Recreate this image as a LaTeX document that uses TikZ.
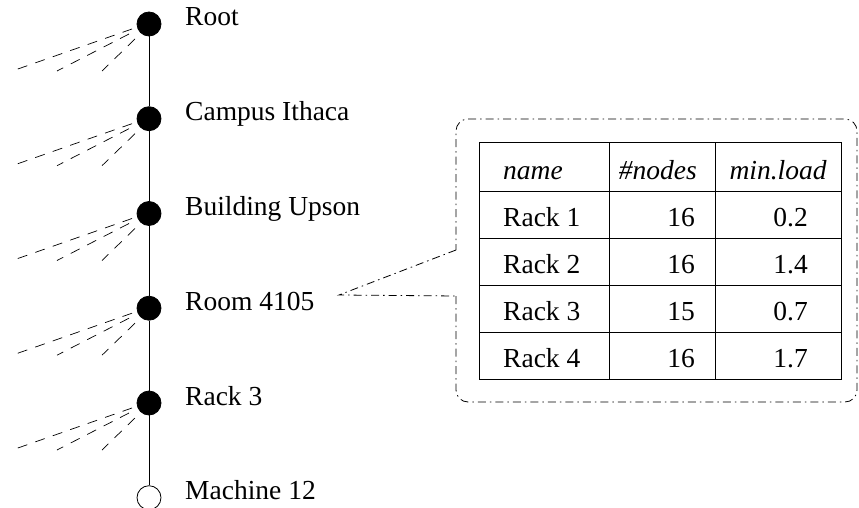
\documentclass[tikz,border=0pt]{standalone}
\usepackage{fontspec}
\setmainfont{Liberation Serif}
\begin{document}
\begin{tikzpicture}[x=1pt,y=-1pt,
  every node/.style={font=\fontsize{27.5}{33}\selectfont, inner sep=0pt},
  vert/.style={circle, draw=black, fill=black, line width=0.8pt, minimum size=24pt},
  leafvert/.style={circle, draw=black, fill=white, line width=0.8pt, minimum size=24pt},
  treeline/.style={line width=0.8pt},
  twig/.style={line width=0.7pt, dash pattern=on 10pt off 8.5pt},
  calloutline/.style={line width=0.8pt, dash pattern=on 8pt off 4pt on 1.5pt off 4pt},
  grid/.style={line width=1pt},
  lbl/.style={anchor=base west},
  cellL/.style={anchor=base west},
  cellR/.style={anchor=base east},
  cellC/.style={anchor=base}]
\useasboundingbox (0,0) rectangle (859,508);

% tree vertices
\node[vert] (root) at (149,24) {};
\node[vert] (campus) at (149,118.7) {};
\node[vert] (building) at (149,213.5) {};
\node[vert] (room) at (149,308.2) {};
\node[vert] (rack) at (149,403) {};
\node[leafvert] (machine) at (149,497.7) {};

\draw[treeline] (root) -- (campus);
\draw[treeline] (campus) -- (building);
\draw[treeline] (building) -- (room);
\draw[treeline] (room) -- (rack);
\draw[treeline] (rack) -- (machine);

% labels
\node[lbl] (lroot) at (185,26) {Root};
\node[lbl] (lcampus) at (185,120.7) {Campus Ithaca};
\node[lbl] (lbuilding) at (185,215.5) {Building Upson};
\node[lbl] (lroom) at (185,310.2) {Room 4105};
\node[lbl] (lrack) at (185,405) {Rack 3};
\node[lbl] (lmachine) at (185,499.7) {Machine 12};

% dashed twigs
\foreach \n in {root,campus,building,room,rack}{
  \draw[twig] (\n) ++(-17,5) -- ++(-117,41);
  \draw[twig] (\n) ++(-20,10) -- ++(-72,37);
  \draw[twig] (\n) ++(-14,15) -- ++(-33,32);
}

% callout
\coordinate (tip) at (339,295);
\coordinate (gapA) at (456,250);
\coordinate (gapB) at (456,296);
\draw[calloutline, rounded corners=12pt] (gapB) -- (456,402) -- (857,402) -- (857,119) -- (456,119) -- (gapA);
\draw[calloutline] (gapA) -- (tip) -- (gapB);

% table grid
\draw[grid] (479,143) rectangle (841,379);
\draw[grid] (609,143) -- (609,379);
\draw[grid] (715,143) -- (715,379);
\foreach \yy in {191,238,285,332}{
  \draw[grid] (479,\yy) -- (841,\yy);
}

% table text
\node[cellL] (h1) at (503,179) {\itshape name};
\node[cellR] (h2) at (697,179) {\itshape \#nodes};
\node[cellC] (h3) at (778,179) {\itshape min.load};

\node[cellL] (a1) at (503,226) {Rack 1};
\node[cellR] (a2) at (695,226) {16};
\node[cellR] (a3) at (808,226) {0.2};

\node[cellL] (b1) at (503,273) {Rack 2};
\node[cellR] (b2) at (695,273) {16};
\node[cellR] (b3) at (808,273) {1.4};

\node[cellL] (c1) at (503,320) {Rack 3};
\node[cellR] (c2) at (695,320) {15};
\node[cellR] (c3) at (808,320) {0.7};

\node[cellL] (d1) at (503,367) {Rack 4};
\node[cellR] (d2) at (695,367) {16};
\node[cellR] (d3) at (808,367) {1.7};
\end{tikzpicture}
\end{document}
